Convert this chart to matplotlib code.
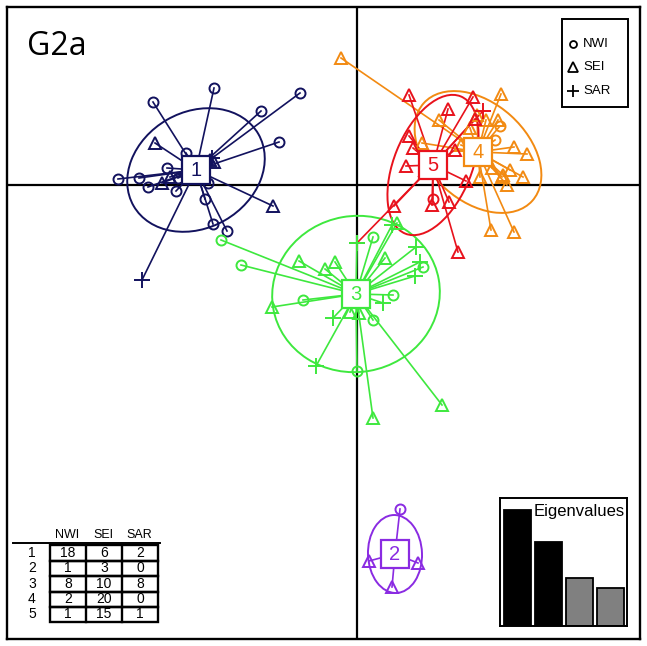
import matplotlib
matplotlib.use("Agg")
import matplotlib.pyplot as plt
from matplotlib.patches import Ellipse, Rectangle
from matplotlib.lines import Line2D

# ---------------- data ----------------
clusters = ["1", "2", "3", "4", "5"]
origins = ["NWI", "SEI", "SAR"]
colors = ["#12125e", "#8a2be2", "#3ee83e", "#f28a12", "#e8121c"]

# cluster centroids (LD1, LD2)
center_x = [-3.22, 0.76, -0.02, 2.42, 1.52]
center_y = [0.30, -7.38, -2.18, 0.66, 0.40]

# ellipse semi-axes and orientation
ell_a = [1.44, 0.78, 1.68, 1.46, 1.48]
ell_b = [1.16, 0.54, 1.56, 0.98, 0.78]
ell_angle = [30, 92, 10, -42, 68]

# individuals, per cluster and origin
g1_nwi = [(-4.08, 1.66), (-2.86, 1.94), (-1.14, 1.84), (-1.92, 1.48), (-1.56, 0.86),
          (-3.42, 0.64), (-3.80, 0.34), (-4.78, 0.12), (-4.36, 0.14), (-4.18, -0.04),
          (-3.62, -0.12), (-2.98, 0.04), (-3.04, -0.28), (-2.88, -0.78), (-2.60, -0.92),
          (-3.58, 0.14), (-3.34, 0.40), (-3.14, 0.18)]
g1_sei = [(-4.04, 0.84), (-3.90, 0.04), (-3.74, 0.16), (-1.68, -0.42), (-2.94, 0.50),
          (-2.86, 0.46)]
g1_sar = [(-4.30, -1.90), (-2.90, 0.54)]

g2_nwi = [(0.86, -6.48)]
g2_sei = [(0.24, -7.52), (1.22, -7.56), (0.70, -8.04)]
g2_sar = []

g3_nwi = [(-2.72, -1.10), (-2.32, -1.60), (-1.08, -2.30), (0.32, -1.04), (1.32, -1.64),
          (0.72, -2.20), (0.32, -2.70), (0.00, -3.72)]
g3_sei = [(-1.16, -1.52), (-0.64, -1.68), (-0.44, -1.54), (-1.70, -2.44), (0.80, -0.76),
          (0.56, -1.46), (-0.14, -2.54), (0.04, -2.56), (1.70, -4.40), (0.32, -4.66)]
g3_sar = [(0.00, -1.16), (0.70, -0.80), (1.18, -1.24), (1.26, -1.54), (1.16, -1.82),
          (0.52, -2.36), (-0.48, -2.66), (-0.82, -3.62)]

g4_nwi = [(2.86, 1.18), (2.76, 0.90)]
g4_sei = [(-0.32, 2.54), (2.88, 1.82), (1.64, 1.30), (2.40, 1.40), (2.58, 1.30),
          (2.82, 1.30), (3.14, 0.76), (3.40, 0.62), (3.32, 0.16), (2.92, 0.20),
          (3.00, 0.00), (2.90, 0.16), (2.46, 0.16), (2.68, -0.90), (3.14, -0.94),
          (1.30, 0.84), (2.08, 0.80), (2.26, 1.14), (2.70, 0.34), (3.06, 0.30)]
g4_sar = []

g5_nwi = [(1.52, -0.28)]
g5_sei = [(1.04, 1.80), (2.32, 1.76), (1.82, 1.52), (2.36, 1.32), (1.04, 0.98),
          (1.12, 0.74), (0.98, 0.38), (2.18, 0.08), (1.50, -0.40), (1.84, -0.34),
          (0.74, -0.42), (2.02, -1.34), (1.66, 0.50), (1.36, 0.30), (1.96, 0.70)]
g5_sar = [(2.52, 1.48), (0.00, -1.16)]

table_counts = [[18, 6, 2], [1, 3, 0], [8, 10, 8], [2, 20, 0], [1, 15, 1]]
eigenvalues = [116, 84, 48, 38]
eig_colors = ["black", "black", "#808080", "#808080"]
panel_title = "G2a"

groups = [
    {"NWI": g1_nwi, "SEI": g1_sei, "SAR": g1_sar},
    {"NWI": g2_nwi, "SEI": g2_sei, "SAR": g2_sar},
    {"NWI": g3_nwi, "SEI": g3_sei, "SAR": g3_sar},
    {"NWI": g4_nwi, "SEI": g4_sei, "SAR": g4_sar},
    {"NWI": g5_nwi, "SEI": g5_sei, "SAR": g5_sar},
]
marker_of = {"NWI": "o", "SEI": "^", "SAR": "+"}
msize_of = {"NWI": 7.2, "SEI": 8.2, "SAR": 11}

# ---------------- figure ----------------
W, H = 647, 646
fig = plt.figure(figsize=(W / 100, H / 100), dpi=100)
plt.rcParams['font.family'] = ['Liberation Sans', 'DejaVu Sans']


def fx(px):
    return px / W


def fy(py):
    return 1 - py / H


ax = fig.add_axes([fx(7), fy(639), (640 - 7) / W, (639 - 7) / H])
ax.set_xlim(-7.0, 5.66)
ax.set_ylim(-9.08, 3.56)
ax.set_xticks([])
ax.set_yticks([])
for s in ax.spines.values():
    s.set_linewidth(1.7)
    s.set_color("black")

ax.axhline(0, color="black", lw=1.6, zorder=1)
ax.axvline(0, color="black", lw=1.6, zorder=1)

for i in range(len(clusters)):
    col = colors[i]
    cx, cy = center_x[i], center_y[i]
    g = groups[i]
    for org in origins:
        for (x, y) in g[org]:
            ax.plot([cx, x], [cy, y], color=col, lw=1.2, zorder=2)
    ax.add_patch(Ellipse((cx, cy), 2 * ell_a[i], 2 * ell_b[i], angle=ell_angle[i],
                         fill=False, edgecolor=col, lw=1.4, zorder=2))
    for org in origins:
        pts = g[org]
        if not pts:
            continue
        xs = [p[0] for p in pts]
        ys = [p[1] for p in pts]
        ax.plot(xs, ys, linestyle="none", marker=marker_of[org], ms=msize_of[org],
                mfc="none", mec=col, mew=1.4, zorder=3 + (0.5 if i == 2 else 0))

for i, lab in enumerate(clusters):
    ax.plot([center_x[i]], [center_y[i]], marker="s", ms=19.5, mfc="white",
            mec=colors[i], mew=1.6, zorder=10)
    ax.text(center_x[i], center_y[i], lab, color=colors[i], fontsize=14.5,
            ha="center", va="center", zorder=11)

fig.text(fx(27), fy(55), panel_title, fontsize=23, family="Open Sans",
         ha="left", va="baseline")

# legend box
fig.add_artist(Rectangle((fx(562), fy(107)), (628 - 562) / W, (107 - 19) / H,
                         transform=fig.transFigure, fill=True, facecolor="white",
                         edgecolor="black", lw=1.4))
leg_y = [44, 67, 91]
leg_ms = {"NWI": 5, "SEI": 6.5, "SAR": 9}
for org, yy in zip(origins, leg_y):
    fig.add_artist(Line2D([fx(573)], [fy(yy)], marker=marker_of[org], ms=leg_ms[org],
                          mfc="none", mec="black", mew=1.3, linestyle="none",
                          transform=fig.transFigure))
    fig.text(fx(583), fy(yy), org, fontsize=9.5, ha="left", va="center")

# table of counts
col_edges = [50, 86, 122, 158]
row_edges = [545, 560.5, 576, 591.5, 607, 622]
head_y = 535
fig.add_artist(Line2D([fx(13), fx(160)], [fy(543), fy(543)], color="black", lw=1.4,
                      transform=fig.transFigure))
for j, org in enumerate(origins):
    xc = (col_edges[j] + col_edges[j + 1]) / 2 - 1
    fig.text(fx(xc), fy(head_y), org, fontsize=9, ha="center", va="center")
for r, lab in enumerate(clusters):
    y0, y1 = row_edges[r], row_edges[r + 1]
    yc = (y0 + y1) / 2
    fig.text(fx(32), fy(yc), lab, fontsize=10, ha="center", va="center")
    fig.add_artist(Rectangle((fx(col_edges[0]), fy(y1)), (col_edges[-1] - col_edges[0]) / W,
                             (y1 - y0) / H, transform=fig.transFigure, fill=False,
                             edgecolor="black", lw=1.7))
    for ce in col_edges[1:-1]:
        fig.add_artist(Line2D([fx(ce), fx(ce)], [fy(y0), fy(y1)], color="black", lw=1.7,
                              transform=fig.transFigure))
    for j in range(3):
        xc = (col_edges[j] + col_edges[j + 1]) / 2
        fig.text(fx(xc), fy(yc), str(table_counts[r][j]), fontsize=10,
                 ha="center", va="center")

# eigenvalue inset
ins = fig.add_axes([fx(500), fy(626), (627 - 500) / W, (626 - 498) / H])
ins.bar(range(len(eigenvalues)), eigenvalues, width=0.87, color=eig_colors,
        edgecolor="black", lw=1.3)
ins.set_xlim(-0.565, 3.53)
ins.set_ylim(0, 128)
ins.set_xticks([])
ins.set_yticks([])
for s in ins.spines.values():
    s.set_linewidth(1.4)
ins.text(0.985, 0.955, "Eigenvalues", transform=ins.transAxes, fontsize=12,
         ha="right", va="top")

fig.savefig("out.png", dpi=100)
